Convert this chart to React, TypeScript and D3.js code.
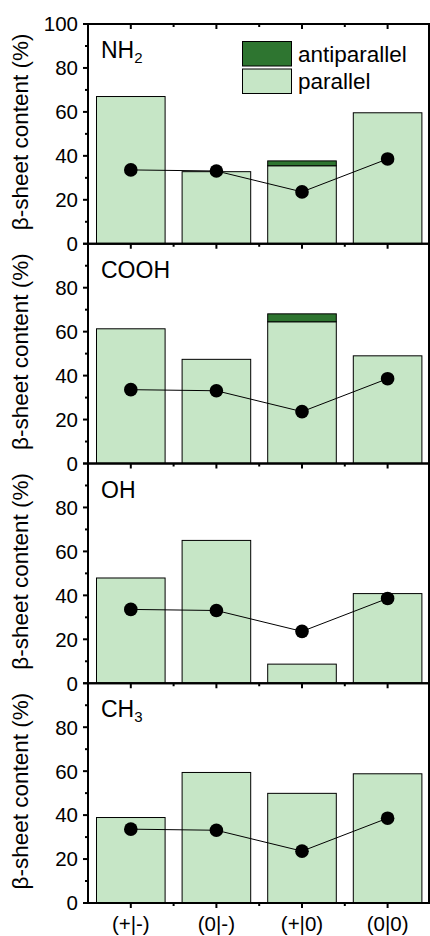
import React from 'react';
import * as d3 from 'd3';

// categories and data
const categories = ['(+|-)', '(0|-)', '(+|0)', '(0|0)'];
const panelNames = ['NH', 'COOH', 'OH', 'CH'];
const panelSubs = ['2', '', '', '3'];

const parallel = [
  [67, 32.8, 35.5, 59.6],
  [61.3, 47.4, 64.5, 49.0],
  [47.9, 65.0, 8.7, 40.8],
  [38.9, 59.4, 49.9, 58.8],
];
const antiparallel = [
  [0, 0, 2.2, 0],
  [0, 0, 3.6, 0],
  [0, 0, 0, 0],
  [0, 0, 0, 0],
];
// the dotted reference line is the same in every panel
const dots = [33.6, 33.1, 23.6, 38.6];

const yMajor = [0, 20, 40, 60, 80, 100];
const yMinor = [10, 30, 50, 70, 90];

const W = 430;
const H = 936;
const left = 88;
const right = 429;
const top0 = 24;
const panelH = 219.75;
const font = '"Liberation Sans", Arial, sans-serif';
const light = '#c6e6c6';
const dark = '#2e7530';

const x = d3.scaleLinear().domain([0.5, 4.5]).range([left, 430.4]);

const Panel: React.FC<{ k: number }> = ({ k }) => {
  const top = top0 + k * panelH;
  const y = d3.scaleLinear().domain([0, 100]).range([top + panelH, top]);
  const bw = 68.6;
  const line = d3.line<number>()
    .x((_, i) => x(i + 1))
    .y(d => y(d));
  const last = k === 3;
  const minorX = [1.5, 2.5, 3.5];
  return (
    <g>
      {/* bars */}
      {parallel[k].map((v, i) => (
        <rect key={'p' + i} x={x(i + 1) - bw / 2} y={y(v)} width={bw}
          height={y(0) - y(v)} fill={light} stroke="#000" strokeWidth={1} />
      ))}
      {antiparallel[k].map((v, i) => v > 0 ? (
        <rect key={'a' + i} x={x(i + 1) - bw / 2} y={y(parallel[k][i] + v)} width={bw}
          height={y(parallel[k][i]) - y(parallel[k][i] + v)} fill={dark} stroke="#000" strokeWidth={1} />
      ) : null)}
      {/* line + dots */}
      <path d={line(dots) || ''} fill="none" stroke="#000" strokeWidth={1} />
      {dots.map((v, i) => (
        <circle key={'d' + i} cx={x(i + 1)} cy={y(v)} r={6.8} fill="#000" />
      ))}
      {/* frame */}
      <rect x={left} y={top} width={right - left} height={panelH} fill="none" stroke="#000" strokeWidth={2} />
      {/* y ticks left & right */}
      {yMajor.map(t => (
        <g key={'yt' + t}>
          <line x1={left - 5} x2={left} y1={y(t)} y2={y(t)} stroke="#000" strokeWidth={2} />
          <line x1={right} x2={right + 5} y1={y(t)} y2={y(t)} stroke="#000" strokeWidth={2} />
          {(k === 0 || t < 100) && (
            <text x={left - 10} y={y(t)} dy="0.36em" textAnchor="end" fontSize={20.5} fontFamily={font}>{t}</text>
          )}
        </g>
      ))}
      {yMinor.map(t => (
        <g key={'ym' + t}>
          <line x1={left - 3} x2={left} y1={y(t)} y2={y(t)} stroke="#000" strokeWidth={2} />
          <line x1={right} x2={right + 3} y1={y(t)} y2={y(t)} stroke="#000" strokeWidth={2} />
        </g>
      ))}
      {/* x ticks: inward at top */}
      {categories.map((_, i) => (
        <line key={'xt' + i} x1={x(i + 1)} x2={x(i + 1)} y1={top} y2={top + 5} stroke="#000" strokeWidth={2} />
      ))}
      {minorX.map(m => (
        <line key={'xm' + m} x1={x(m)} x2={x(m)} y1={top} y2={top + 3} stroke="#000" strokeWidth={2} />
      ))}
      {last && categories.map((c, i) => (
        <g key={'xb' + i}>
          <line x1={x(i + 1)} x2={x(i + 1)} y1={y(0)} y2={y(0) + 5} stroke="#000" strokeWidth={2} />
          <text x={x(i + 1)} y={931} textAnchor="middle" fontSize={20.5} fontFamily={font}>{c}</text>
        </g>
      ))}
      {last && minorX.map(m => (
        <line key={'xbm' + m} x1={x(m)} x2={x(m)} y1={y(0)} y2={y(0) + 3} stroke="#000" strokeWidth={2} />
      ))}
      {/* panel label */}
      <text x={101} y={top + 34} fontSize={23} fontFamily={font}>
        {panelNames[k]}
        {panelSubs[k] && <tspan fontSize={15} dy={5}>{panelSubs[k]}</tspan>}
      </text>
      {/* y label */}
      <text transform={`translate(28,${top + panelH / 2 - 2}) rotate(-90)`} textAnchor="middle"
        fontSize={22.5} fontFamily={font}>β-sheet content (%)</text>
    </g>
  );
};

const App: React.FC = () => (
  <svg width={W} height={H} viewBox={`0 0 ${W} ${H}`}
    style={{ position: 'absolute', left: 0, top: 0, background: '#fff' }}>
    {[0, 1, 2, 3].map(k => <Panel key={k} k={k} />)}
    {/* legend */}
    <rect x={242.5} y={41.5} width={49} height={24.5} fill={dark} stroke="#000" strokeWidth={1} />
    <rect x={242.5} y={69} width={49} height={24.5} fill={light} stroke="#000" strokeWidth={1} />
    <text x={298} y={61.5} fontSize={22.5} fontFamily={font}>antiparallel</text>
    <text x={298} y={89} fontSize={22.5} fontFamily={font}>parallel</text>
  </svg>
);

export default App;
